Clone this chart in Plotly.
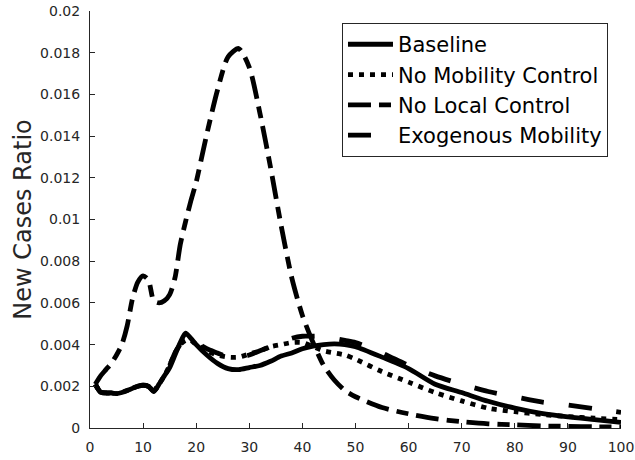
import plotly.graph_objects as go

# ---- data ----
days = [1, 2, 3, 4, 5, 6, 7, 8, 9, 10, 11, 12, 13, 14, 15, 16, 17, 18, 19, 20,
        22, 24, 26, 28, 30, 32, 34, 36, 38, 40, 42, 44, 46, 48, 50,
        55, 60, 65, 70, 75, 80, 85, 90, 95, 100]

baseline = [0.0021, 0.00172, 0.00168, 0.00168, 0.00165, 0.0017, 0.0018, 0.0019, 0.002, 0.00205,
            0.002, 0.00175, 0.0021, 0.0025, 0.0029, 0.0035, 0.0041, 0.00455, 0.0043, 0.0040,
            0.0035, 0.0031, 0.00285, 0.0028, 0.0029, 0.0030, 0.0032, 0.00345, 0.0036, 0.0038,
            0.00393, 0.0040, 0.00403, 0.0040, 0.0039,
            0.0034, 0.00285, 0.0021, 0.0017, 0.00128, 0.00095, 0.0007, 0.00053, 0.0004, 0.00027]

no_mobility = [0.0021, 0.00172, 0.00168, 0.00168, 0.00165, 0.0017, 0.0018, 0.0019, 0.002, 0.00205,
               0.002, 0.00178, 0.0021, 0.0025, 0.0030, 0.0036, 0.0040, 0.0042, 0.0042, 0.0040,
               0.0037, 0.0035, 0.0034, 0.0034, 0.00355, 0.0037, 0.0039, 0.0040, 0.0041, 0.0041,
               0.0039, 0.0037, 0.0036, 0.0035, 0.0033,
               0.0027, 0.0022, 0.0017, 0.0013, 0.00095, 0.00078, 0.00065, 0.00055, 0.00047, 0.0004]

no_local = [0.0021, 0.0025, 0.0028, 0.0031, 0.0035, 0.0040, 0.0049, 0.0062, 0.0070, 0.0073,
            0.0071, 0.0061, 0.0060, 0.0061, 0.0064, 0.0072, 0.0088, 0.0099, 0.0109, 0.0118,
            0.0141, 0.0162, 0.0178, 0.0182, 0.0173, 0.0151, 0.0125, 0.0097, 0.0072, 0.0054,
            0.0041, 0.0030, 0.0023, 0.0018, 0.0015,
            0.00098, 0.00068, 0.00045, 0.0003, 0.0002, 0.00015, 0.0001, 0.00008, 0.00006, 0.00005]

exogenous = [0.0021, 0.00172, 0.00168, 0.00168, 0.00165, 0.0017, 0.0018, 0.0019, 0.002, 0.00205,
             0.002, 0.00178, 0.0021, 0.0025, 0.0030, 0.0036, 0.0040, 0.0042, 0.0042, 0.0041,
             0.0038, 0.0036, 0.0034, 0.0034, 0.0035, 0.0037, 0.0039, 0.0041, 0.0043, 0.0044,
             0.0044, 0.0044, 0.0043, 0.0042, 0.0041,
             0.0036, 0.0030, 0.0025, 0.0021, 0.00175, 0.0015, 0.00125, 0.0011, 0.00093, 0.00075]

series_names = ["Baseline", "No Mobility Control", "No Local Control", "Exogenous Mobility"]

x_ticks = [0, 10, 20, 30, 40, 50, 60, 70, 80, 90, 100]
x_tick_text = ["0", "10", "20", "30", "40", "50", "60", "70", "80", "90", "100"]
y_ticks = [0, 0.002, 0.004, 0.006, 0.008, 0.01, 0.012, 0.014, 0.016, 0.018, 0.02]
y_tick_text = ["0", "0.002", "0.004", "0.006", "0.008", "0.01", "0.012", "0.014", "0.016", "0.018", "0.02"]

# ---- figure ----
FONT = "DejaVu Sans"
AXC = "#262626"
LW = 4.8

styles = ["solid", "5px,6px", "23px,8px,12px,8px", "23px,25px"]
values = [baseline, no_mobility, no_local, exogenous]

fig = go.Figure()
for name, vals, dash in zip(series_names, values, styles):
    fig.add_trace(go.Scatter(
        x=days, y=vals, mode="lines", name=name,
        line=dict(color="black", width=LW, dash=dash, shape="spline", smoothing=0.7),
    ))

fig.update_layout(
    width=635, height=460,
    margin=dict(l=90, r=14, t=11, b=32),
    plot_bgcolor="white", paper_bgcolor="white",
    font=dict(family=FONT, color=AXC),
    showlegend=True,
    legend=dict(
        x=0.9755, y=0.971, xanchor="right", yanchor="top",
        bgcolor="white", bordercolor=AXC, borderwidth=1,
        font=dict(family=FONT, size=21, color="black"),
        itemwidth=45,
        tracegroupgap=0,
    ),
)

fig.update_xaxes(
    range=[0, 100], tickvals=x_ticks, ticktext=x_tick_text,
    ticks="inside", ticklen=5, tickcolor=AXC, tickwidth=1,
    showline=True, linecolor=AXC, linewidth=1,
    showgrid=False, zeroline=False, mirror=False,
    tickfont=dict(family=FONT, size=14, color=AXC),
    ticklabelstandoff=6, automargin=False,
)
fig.update_yaxes(
    range=[0, 0.02], tickvals=y_ticks, ticktext=y_tick_text,
    ticks="inside", ticklen=5, tickcolor=AXC, tickwidth=1,
    showline=True, linecolor=AXC, linewidth=1,
    showgrid=False, zeroline=False, mirror=False,
    tickfont=dict(family=FONT, size=14, color=AXC),
    ticklabelstandoff=6, automargin=False,
    title=dict(text="New Cases Ratio", font=dict(family=FONT, size=24, color=AXC), standoff=1),
)

fig.write_html("out.html")
